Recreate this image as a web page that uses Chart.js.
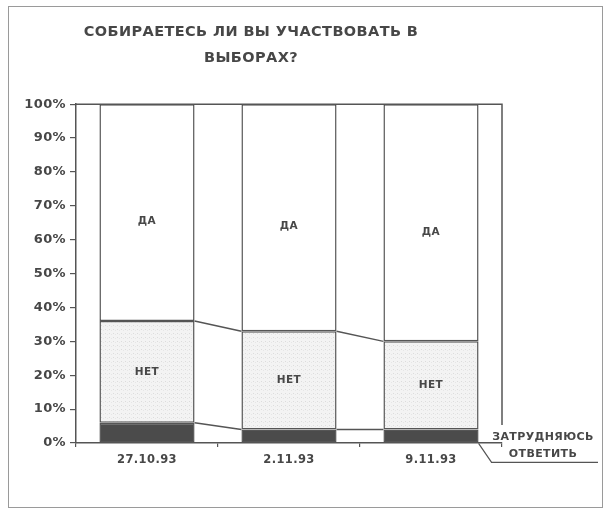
<!DOCTYPE html>
<html>
<head>
<meta charset="utf-8">
<script src="https://cdn.jsdelivr.net/npm/chart.js@4/dist/chart.umd.min.js"></script>
<style>
html,body{margin:0;padding:0;background:#fff;}
canvas{display:block;}
</style>
</head>
<body>
<canvas id="c" width="604" height="510"></canvas>
<script>
// ---- data ----
const categories = ['27.10.93', '2.11.93', '9.11.93'];
const hardToSay = [6, 4, 4];      // ЗАТРУДНЯЮСЬ ОТВЕТИТЬ
const noValues  = [30, 29, 26];   // НЕТ
const yesValues = [64, 67, 70];   // ДА
const seriesNames = ['ЗАТРУДНЯЮСЬ ОТВЕТИТЬ', 'НЕТ', 'ДА'];
const titleLines = ['СОБИРАЕТЕСЬ ЛИ ВЫ УЧАСТВОВАТЬ В', 'ВЫБОРАХ?'];

const TEXT = '#474747';
const LINE = '#555555';
const SPACING = '0.4px';

// light stippled fill for НЕТ
function stipple() {
  const p = document.createElement('canvas');
  p.width = 4; p.height = 4;
  const g = p.getContext('2d');
  g.fillStyle = '#f3f3f3'; g.fillRect(0, 0, 4, 4);
  g.fillStyle = '#dcdcdc'; g.fillRect(1, 1, 1, 1);
  g.fillStyle = '#e6e6e6'; g.fillRect(3, 2, 1, 1);
  return document.getElementById('c').getContext('2d').createPattern(p, 'repeat');
}

const spacingPlugin = {
  id: 'spacing',
  beforeLayout(chart) { chart.ctx.letterSpacing = SPACING; },
  beforeDraw(chart) {
    const ctx = chart.ctx;
    ctx.save();
    ctx.fillStyle = '#fff';
    ctx.fillRect(0, 0, chart.width, chart.height);
    ctx.strokeStyle = '#9a9a9a';
    ctx.lineWidth = 1;
    ctx.strokeRect(8.5, 6.5, 594, 501);
    ctx.restore();
    ctx.letterSpacing = SPACING;
  }
};

const decoPlugin = {
  id: 'deco',
  afterDatasetsDraw(chart) {
    const ctx = chart.ctx;
    const a = chart.chartArea;
    ctx.save();
    ctx.letterSpacing = SPACING;
    // plot frame (top + right)
    ctx.strokeStyle = LINE;
    ctx.lineWidth = 1.5;
    ctx.beginPath();
    ctx.moveTo(a.left, a.top);
    ctx.lineTo(a.right, a.top);
    ctx.lineTo(a.right, a.bottom - 18);
    ctx.stroke();
    // series lines between bars
    for (let d = 0; d < 2; d++) {
      const els = chart.getDatasetMeta(d).data;
      ctx.beginPath();
      for (let i = 0; i < els.length - 1; i++) {
        const e1 = els[i], e2 = els[i + 1];
        ctx.moveTo(e1.x + e1.width / 2, e1.y);
        ctx.lineTo(e2.x - e2.width / 2, e2.y);
      }
      ctx.stroke();
    }
    // segment labels
    ctx.fillStyle = TEXT;
    ctx.font = 'bold 10.5px "DejaVu Sans"';
    ctx.textAlign = 'center';
    ctx.textBaseline = 'middle';
    [1, 2].forEach(d => {
      chart.getDatasetMeta(d).data.forEach(e => {
        const yy = (e.y + e.base) / 2 + (d === 2 ? 9 : 0);
        ctx.fillText(seriesNames[d], e.x, yy);
      });
    });
    // leader label for the first series
    const els0 = chart.getDatasetMeta(0).data;
    const last = els0[els0.length - 1];
    const x0 = last.x + last.width / 2, y0 = last.base;
    ctx.lineWidth = 1.2;
    ctx.beginPath();
    ctx.moveTo(x0, y0 + 1);
    ctx.lineTo(x0 + 13, y0 + 20);
    ctx.lineTo(598, y0 + 20);
    ctx.stroke();
    const words = seriesNames[0].split(' ');
    ctx.font = 'bold 11px "DejaVu Sans"';
    ctx.fillText(words[0], 543, y0 - 5);
    ctx.fillText(words[1], 543, y0 + 12);
    ctx.restore();
  }
};

const pattern = stipple();

new Chart(document.getElementById('c'), {
  type: 'bar',
  data: {
    labels: categories,
    datasets: [
      { label: seriesNames[0], data: hardToSay, backgroundColor: '#4b4b4b' },
      { label: seriesNames[1], data: noValues, backgroundColor: pattern },
      { label: seriesNames[2], data: yesValues, backgroundColor: '#ffffff' }
    ].map(ds => Object.assign(ds, {
      borderColor: LINE, borderWidth: 1.5, borderSkipped: false,
      barPercentage: 0.67, categoryPercentage: 1
    }))
  },
  options: {
    responsive: false,
    animation: false,
    devicePixelRatio: 1,
    layout: { padding: { left: 0, right: 102, top: 0, bottom: 37 } },
    plugins: {
      legend: { display: false },
      tooltip: { enabled: false },
      title: {
        display: true,
        text: titleLines,
        color: TEXT,
        font: { family: 'DejaVu Sans', size: 14.5, weight: 'bold', lineHeight: 1.8 },
        padding: { top: 19, bottom: 33 }
      }
    },
    scales: {
      x: {
        stacked: true,
        grid: { display: true, drawOnChartArea: false, offset: true, tickLength: 4, color: LINE, lineWidth: 1.2 },
        border: { display: true, color: LINE, width: 1.5 },
        ticks: { color: TEXT, padding: 6, font: { family: 'DejaVu Sans', size: 11.5, weight: 'bold' } },
        afterFit(s) { s.height = 30; }
      },
      y: {
        stacked: true,
        min: 0, max: 100,
        ticks: { stepSize: 10, color: TEXT, padding: 4, callback: v => v + '%',
                 font: { family: 'DejaVu Sans', size: 13, weight: 'bold' } },
        grid: { display: true, drawOnChartArea: false, tickLength: 6, color: LINE, lineWidth: 1.2 },
        border: { display: true, color: LINE, width: 1.5 },
        afterFit(s) { s.width = 76; }
      }
    }
  },
  plugins: [spacingPlugin, decoPlugin]
});
</script>
</body>
</html>
